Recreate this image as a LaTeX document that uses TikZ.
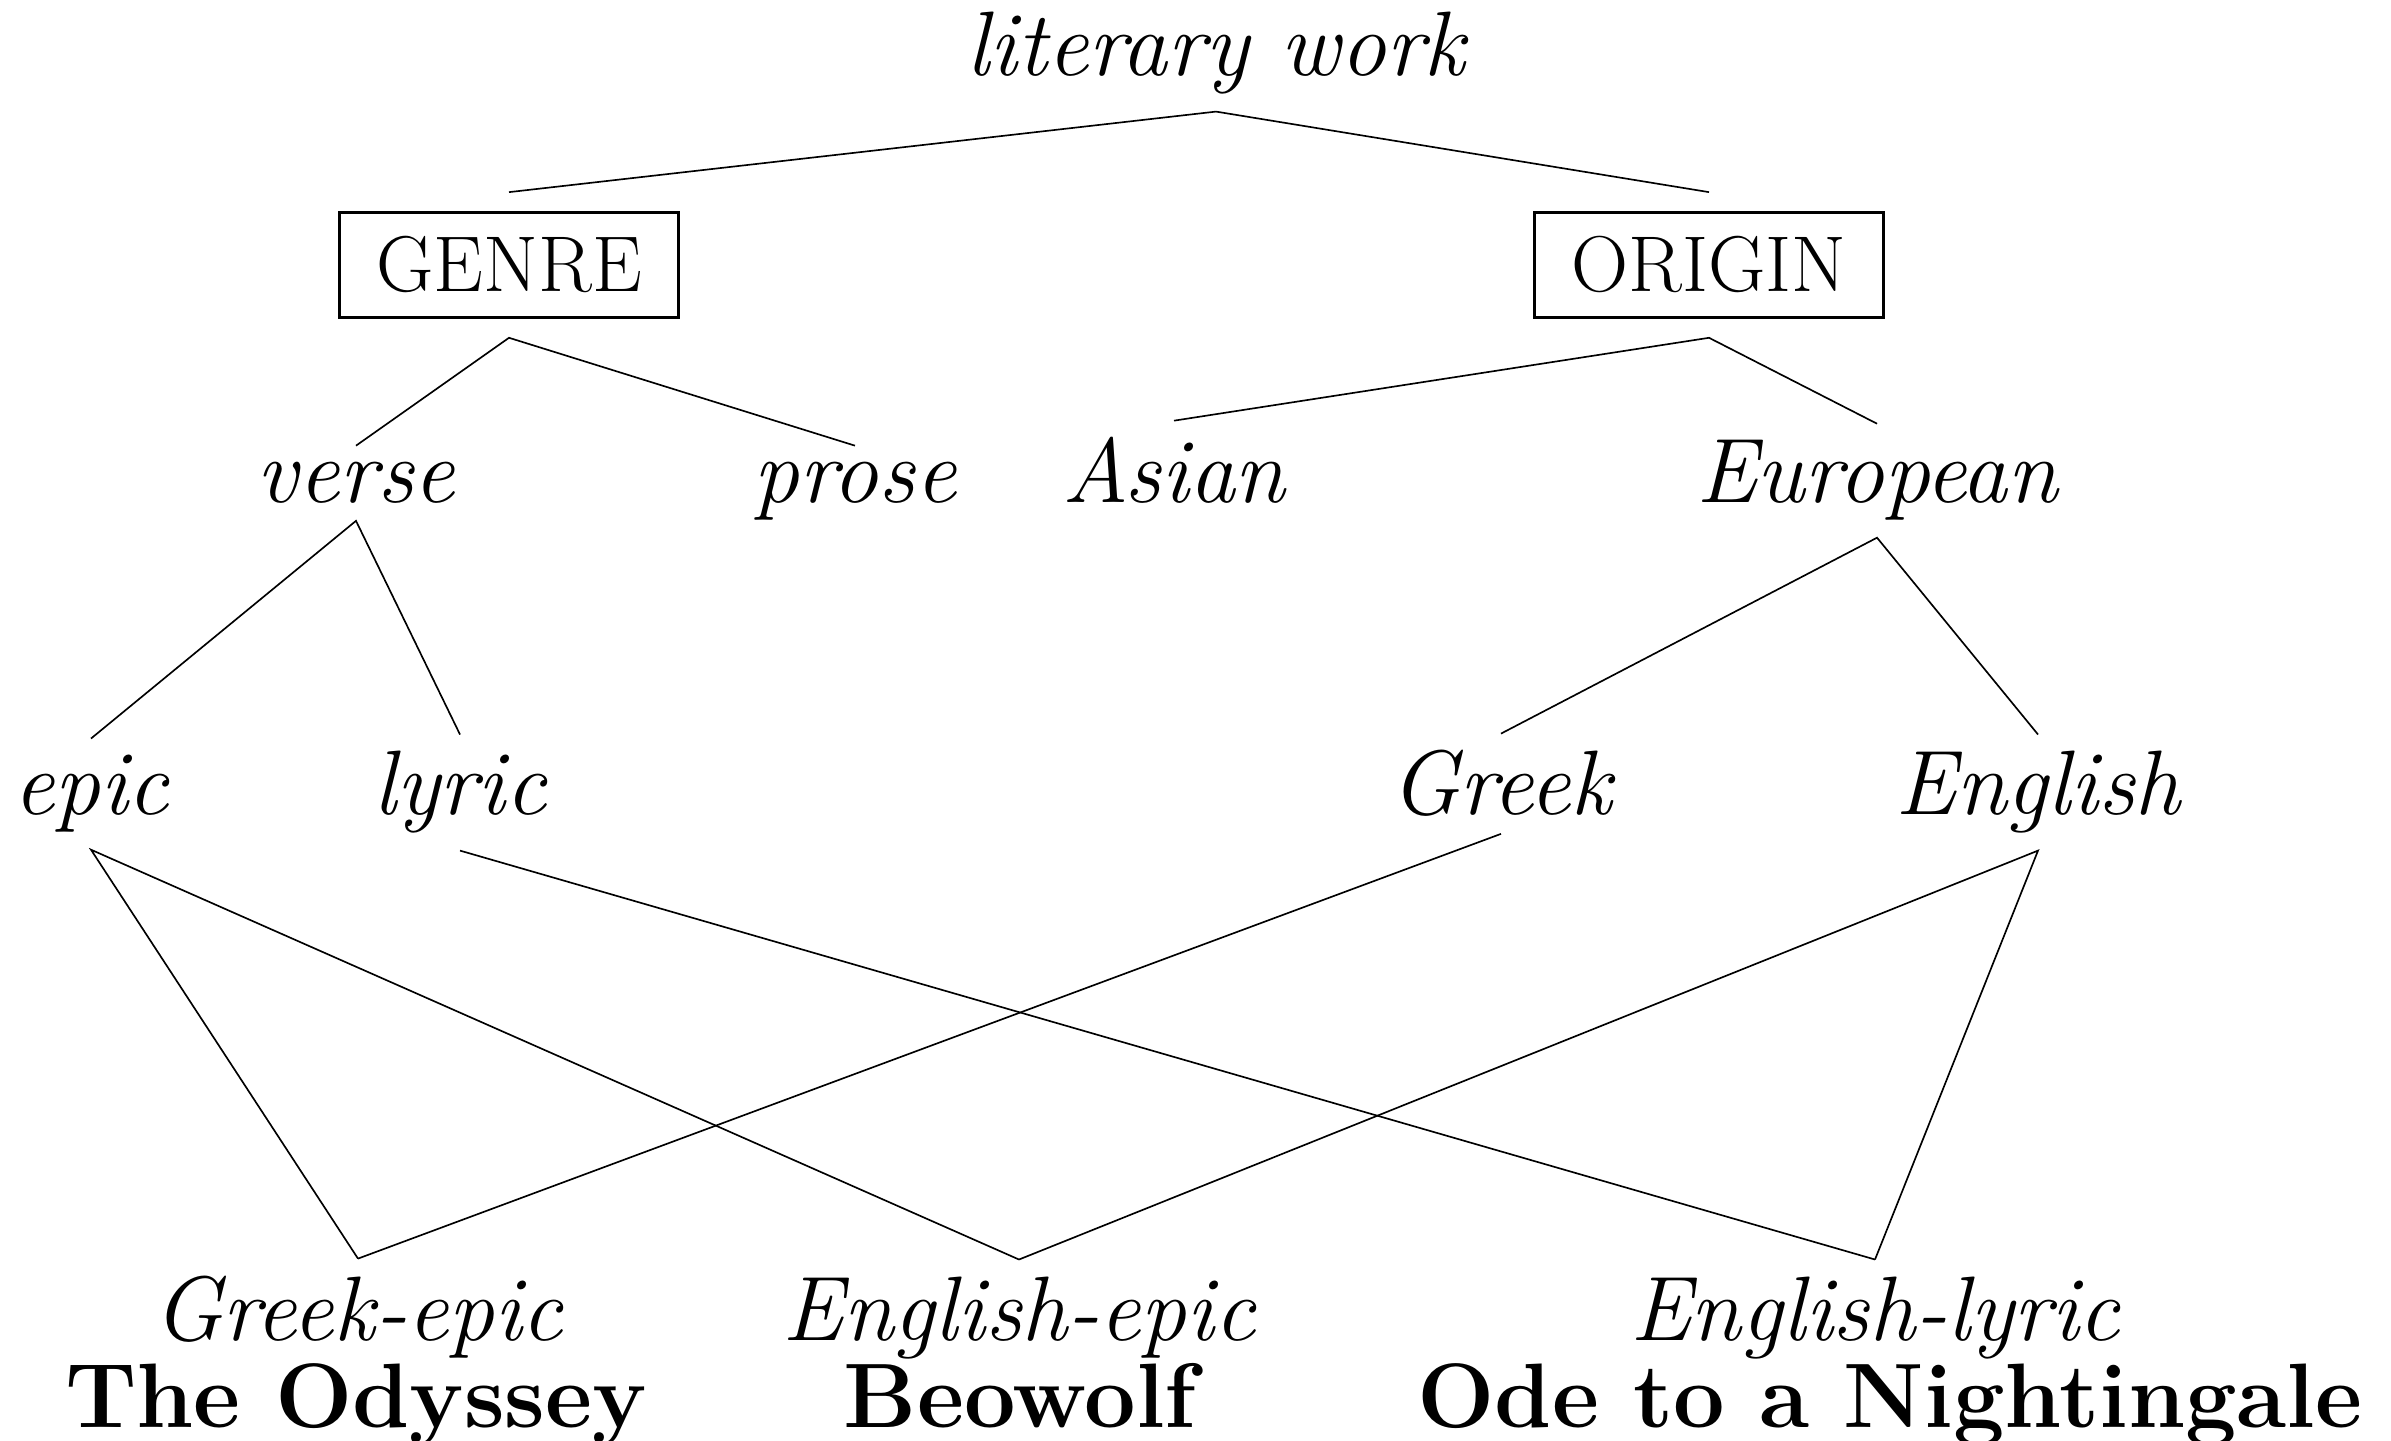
\documentclass[tikz,border=0pt]{standalone}
\begin{document}
\begin{tikzpicture}[x=0.2717pt, y=-0.2717pt,
  it/.style={font=\fontsize{24.88}{30}\selectfont\itshape, inner sep=4.6pt, outer sep=0pt, anchor=base},
  cat/.style={font=\fontsize{21.5}{26}\selectfont, draw, line width=0.8pt, inner xsep=10pt, inner ysep=6.5pt, outer sep=5.6pt, anchor=base},
  ttl/.style={font=\fontsize{24.88}{30}\selectfont\bfseries, inner sep=0pt, anchor=base},
  edge/.style={line width=0.45pt}]
\useasboundingbox (0,0) rectangle (2391,1441);
\node[it] (lw) at (1216,76) {literary work};
\node[cat] (genre) at (509,292) {GENRE};
\node[cat] (origin) at (1709,292) {ORIGIN};
\node[it] (verse) at (356,503) {verse};
\node[it] (prose) at (855,503) {prose};
\node[it] (asian) at (1174,503) {Asian};
\node[it] (european) at (1877,503) {European};
\node[it] (epic) at (91,815) {epic};
\node[it] (lyric) at (460,815) {lyric};
\node[it] (greek) at (1501,815) {Greek};
\node[it] (english) at (2038,815) {English};
\node[it] (gepic) at (358,1340) {Greek-epic};
\node[it] (eepic) at (1019,1340) {English-epic};
\node[it] (elyric) at (1875,1340) {English-lyric};
\node[ttl] (odyssey) at (356,1427) {The Odyssey};
\node[ttl] (beowolf) at (1020,1427) {Beowolf};
\node[ttl] (ode) at (1890,1427) {Ode to a Nightingale};
\draw[edge] (genre.north) -- (lw.south) -- (origin.north);
\draw[edge] (verse.north) -- (genre.south) -- (prose.north);
\draw[edge] (asian.north) -- (origin.south) -- (european.north);
\draw[edge] (epic.north) -- (verse.south) -- (lyric.north);
\draw[edge] (greek.north) -- (european.south) -- (english.north);
\draw[edge] (gepic.north) -- (epic.south) -- (eepic.north);
\draw[edge] (lyric.south) -- (elyric.north);
\draw[edge] (greek.south) -- (gepic.north);
\draw[edge] (eepic.north) -- (english.south) -- (elyric.north);
\end{tikzpicture}
\end{document}
